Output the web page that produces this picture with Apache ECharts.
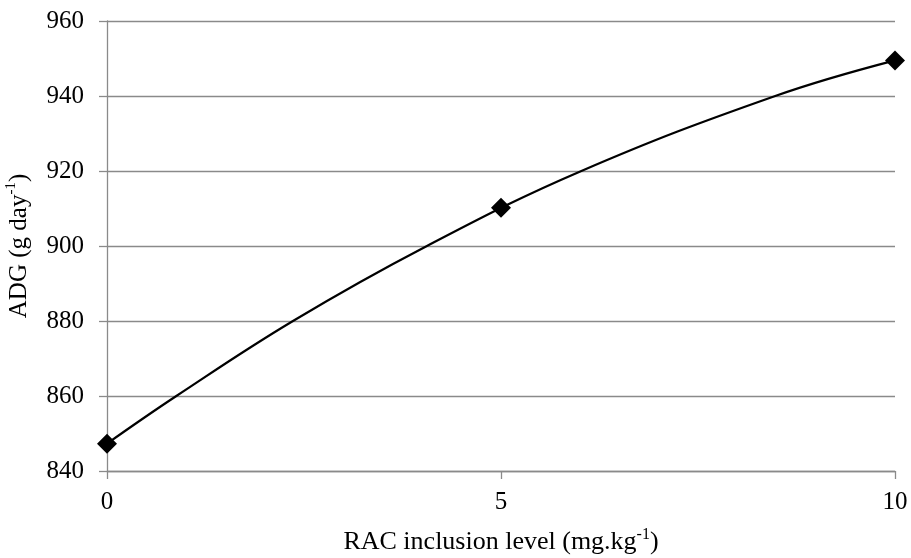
<!DOCTYPE html>
<html>
<head>
<meta charset="utf-8">
<script src="https://cdn.jsdelivr.net/npm/echarts@6/dist/echarts.min.js"></script>
<style>html,body{margin:0;padding:0;background:#fff;}#c{width:911px;height:558px;}</style>
</head>
<body>
<div id="c"></div>
<script>
// RAC inclusion levels (mg/kg) and observed ADG (g/day)
const xLevels = [0, 5, 10];
const adgValues = [847.3, 910.2, 949.5];
// Trendline positions (where the curve crosses gridlines)
const trendX = [0, 0.88, 2.36, 4.06, 6.02, 8.48, 10];
const trendY = [847.3, 860, 880, 900, 920, 940, 949.5];
const xTicks = [0, 5, 10];
const yTicks = [840, 860, 880, 900, 920, 940, 960];

const FONT = "'Liberation Serif', 'Times New Roman', serif";
const GRID = '#8a8a8a';

const chart = echarts.init(document.getElementById('c'), null, {renderer: 'canvas'});
chart.setOption({
  animation: false,
  backgroundColor: '#fff',
  grid: {left: 107, right: 16, top: 21, bottom: 87, containLabel: false, outerBoundsMode: 'none'},
  xAxis: {
    type: 'value',
    min: xTicks[0], max: xTicks[xTicks.length - 1], interval: 5,
    name: '{a|RAC inclusion level (mg.kg}{s|-1}{a|)}',
    nameLocation: 'middle', nameGap: 56,
    nameTextStyle: {
      rich: {
        a: {fontFamily: FONT, fontSize: 26, color: '#000', lineHeight: 30},
        s: {fontFamily: FONT, fontSize: 16, color: '#000', verticalAlign: 'top', lineHeight: 18}
      }
    },
    axisLine: {show: true, lineStyle: {color: GRID, width: 1.3}},
    axisTick: {show: true, length: 8, lineStyle: {color: GRID, width: 1.3}},
    axisLabel: {fontFamily: FONT, fontSize: 25, color: '#000', margin: 19},
    splitLine: {show: false}
  },
  yAxis: {
    type: 'value',
    min: yTicks[0], max: yTicks[yTicks.length - 1], interval: 20,
    name: '{a|ADG (g day}{s|-1}{a|)}',
    nameLocation: 'middle', nameGap: 73, nameRotate: 90,
    nameTextStyle: {
      rich: {
        a: {fontFamily: FONT, fontSize: 25, color: '#000', lineHeight: 30},
        s: {fontFamily: FONT, fontSize: 15, color: '#000', verticalAlign: 'top', lineHeight: 18}
      }
    },
    axisLine: {show: true, lineStyle: {color: GRID, width: 1.3}},
    axisTick: {show: true, length: 8, lineStyle: {color: GRID, width: 1.3}},
    axisLabel: {fontFamily: FONT, fontSize: 25, color: '#000', margin: 23},
    splitLine: {show: true, lineStyle: {color: GRID, width: 1.3}}
  },
  series: [
    {
      type: 'line',
      data: trendX.map((x, i) => [x, trendY[i]]),
      smooth: 0.4,
      showSymbol: false,
      lineStyle: {color: '#000', width: 2.2},
      z: 2
    },
    {
      type: 'scatter',
      data: xLevels.map((x, i) => [x, adgValues[i]]),
      symbol: 'diamond',
      symbolSize: 20,
      itemStyle: {color: '#000', opacity: 1},
      z: 3
    }
  ]
});
</script>
</body>
</html>
